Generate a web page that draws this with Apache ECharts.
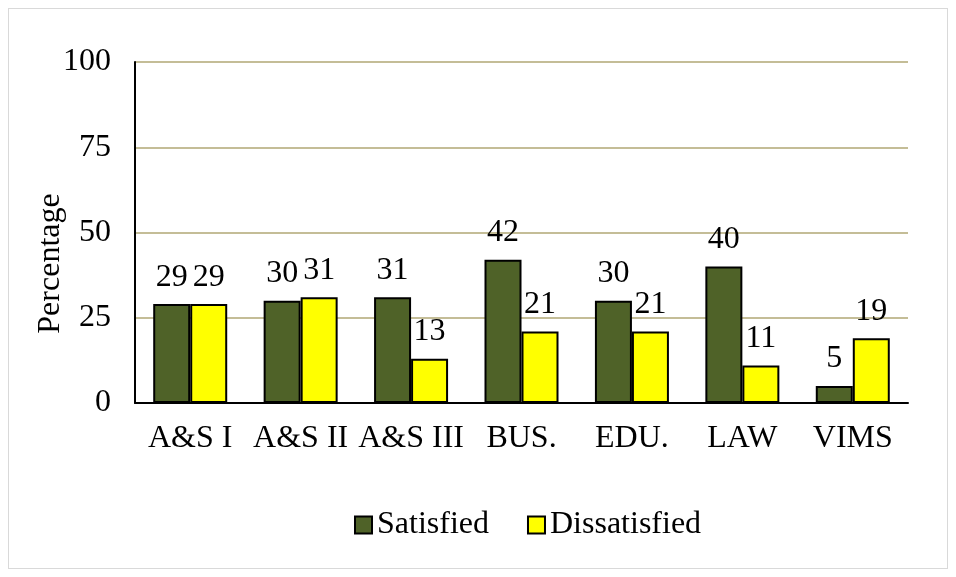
<!DOCTYPE html>
<html>
<head>
<meta charset="utf-8">
<script src="https://cdn.jsdelivr.net/npm/echarts@6/dist/echarts.min.js"></script>
<style>
html,body{margin:0;padding:0;background:#fff;}
#box{position:absolute;left:8px;top:8px;width:938px;height:559px;border:1px solid #d9d9d9;}
#main{position:absolute;left:0;top:0;width:956px;height:577px;}
</style>
</head>
<body>
<div id="box"></div>
<div id="main"></div>
<script>
var categories = ['A&S I', 'A&S II', 'A&S III', 'BUS.', 'EDU.', 'LAW', 'VIMS'];
var satisfied = [29, 30, 31, 42, 30, 40, 5];
var dissatisfied = [29, 31, 13, 21, 21, 11, 19];
var font = 'Liberation Serif, Times New Roman, serif';

var myChart = echarts.init(document.getElementById('main'));
var option = {
    animation: false,
    textStyle: {fontFamily: font},
    legend: {
        top: 504,
        left: 349,
        itemWidth: 17,
        itemHeight: 17,
        itemGap: 38,
        icon: 'rect',
        textStyle: {fontFamily: font, fontSize: 32, color: '#000', padding: [0, 0, 0, 0]},
        data: ['Satisfied', 'Dissatisfied']
    },
    grid: {left: 135, right: 48, top: 62, bottom: 174},
    xAxis: {
        type: 'category',
        data: categories,
        axisLine: {lineStyle: {color: '#000', width: 2}},
        axisTick: {show: false},
        axisLabel: {fontFamily: font, fontSize: 32, color: '#000', margin: 20, interval: 0}
    },
    yAxis: {
        type: 'value',
        min: 0,
        max: 100,
        interval: 25,
        name: 'Percentage',
        nameLocation: 'middle',
        nameGap: 68,
        nameMoveOverlap: false,
        // reference title sits a little below the plot middle
        nameTextStyle: {fontFamily: font, fontSize: 32, color: '#000', padding: [0, 62, 0, 0]},
        axisLine: {show: true, lineStyle: {color: '#000', width: 2}},
        axisTick: {show: false},
        axisLabel: {fontFamily: font, fontSize: 32, color: '#000', margin: 24},
        splitLine: {lineStyle: {color: '#c4bd97', width: 2}}
    },
    series: [
        {
            name: 'Satisfied',
            type: 'bar',
            data: satisfied,
            barWidth: 37,
            barGap: '0%',
            itemStyle: {color: '#4f6228', borderColor: '#000', borderWidth: 2},
            label: {show: true, position: 'top', distance: 11, fontFamily: font, fontSize: 32, color: '#000'}
        },
        {
            name: 'Dissatisfied',
            type: 'bar',
            data: dissatisfied,
            barWidth: 37,
            itemStyle: {color: '#ffff00', borderColor: '#000', borderWidth: 2},
            label: {show: true, position: 'top', distance: 11, fontFamily: font, fontSize: 32, color: '#000'}
        }
    ]
};
myChart.setOption(option);
</script>
</body>
</html>
